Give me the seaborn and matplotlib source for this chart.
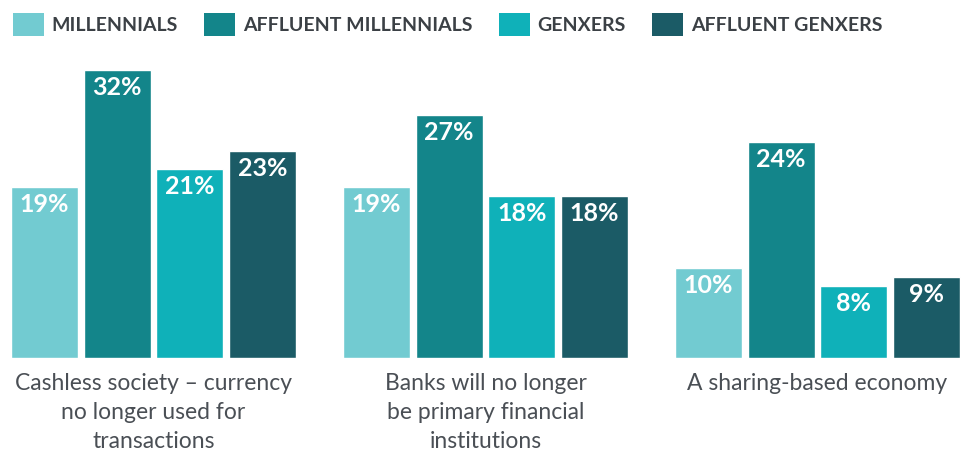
import numpy as np
import pandas as pd
import seaborn as sns
import matplotlib.pyplot as plt
from matplotlib.patches import Patch

# Data
categories = ["Cashless society – currency\nno longer used for\ntransactions",
              "Banks will no longer\nbe primary financial\ninstitutions",
              "A sharing-based economy"]
groups = ["MILLENNIALS", "AFFLUENT MILLENNIALS", "GENXERS", "AFFLUENT GENXERS"]
millennials = [19, 19, 10]
affluent_millennials = [32, 27, 24]
genxers = [21, 18, 8]
affluent_genxers = [23, 18, 9]
colors = ["#72CBD1", "#13858A", "#0FB1B9", "#1B5B66"]

#Long-form table for seaborn
values = [millennials, affluent_millennials, genxers, affluent_genxers]
rows = []
for g, vals in zip(groups, values):
    for c, v in zip(categories, vals):
        rows.append({"category": c, "group": g, "value": v})
df = pd.DataFrame(rows)

sns.set_style("white")
plt.rcParams['font.family'] = ['Lato', 'DejaVu Sans']
text_gray = "#3b4045"

fig = plt.figure(figsize=(9.69, 4.51), dpi=100)
ax = fig.add_axes([0, 93/451, 1, 308/451])

sns.barplot(data=df, x="category", y="value", hue="group", order=categories,
            hue_order=groups, palette=colors, width=0.876, gap=0.078,
            saturation=1, ax=ax, legend=False, errorbar=None)

ax.set_xlim(-153.5/332, (969-153.5)/332)
ax.set_ylim(0, 308/9)

#White value labels inside the top of each bar
for cont in ax.containers:
    for bar in cont:
        h = bar.get_height()
        ax.annotate(f"{int(round(h))}%", (bar.get_x() + bar.get_width()/2, h),
                    xytext=(0, -12.6), textcoords="offset points",
                    ha="center", va="center", color="white",
                    fontsize=18, fontweight="bold")

ax.set_xlabel("")
ax.set_ylabel("")
ax.set_yticks([])
ax.tick_params(axis="x", length=0, pad=11)
for lbl in ax.get_xticklabels():
    lbl.set_fontsize(16.5)
    lbl.set_color("#4a4f55")
    lbl.set_linespacing(1.45)
sns.despine(ax=ax, left=True, bottom=True)

#Legend along the top
handles = [Patch(facecolor=c, edgecolor="none", label=g) for c, g in zip(colors, groups)]
leg = fig.legend(handles=handles, loc="upper left", bbox_to_anchor=(0.0, 1.0),
                 ncol=4, frameon=False, handlelength=1.6, handleheight=1.5,
                 handletextpad=0.4, columnspacing=1.35, borderaxespad=0.25,
                 prop=dict(family=['Lato', 'DejaVu Sans'], weight="bold", size=14))
for t in leg.get_texts():
    t.set_color(text_gray)

fig.savefig("out.png", dpi=100)
